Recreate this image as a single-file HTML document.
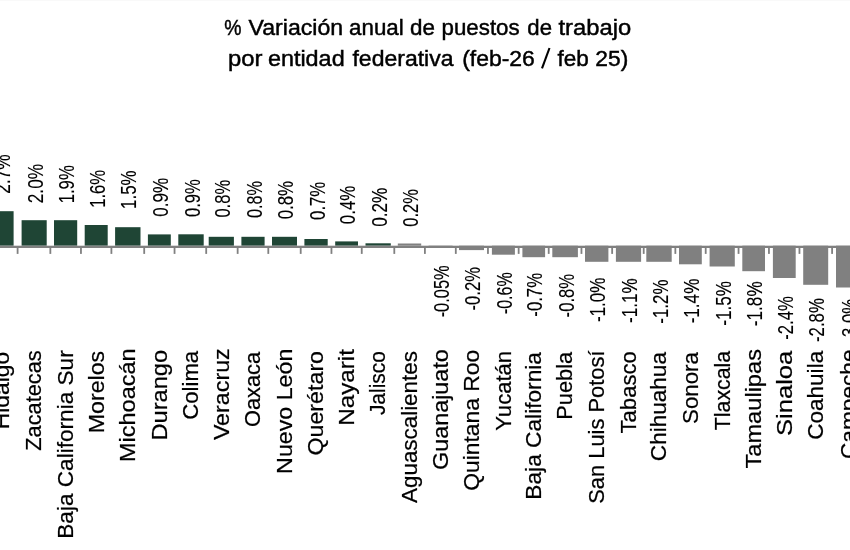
<!DOCTYPE html>
<html><head><meta charset="utf-8"><style>
html,body{margin:0;padding:0;background:#fff;width:850px;height:550px;overflow:hidden}
svg{display:block;will-change:transform;filter:blur(0.4px)}
text{font-family:"Liberation Sans",sans-serif;fill:#000}
.t{font-size:22px;stroke:#000;stroke-width:0.45px}
.v{font-size:21.5px;stroke:#000;stroke-width:0.12px}
.c{font-size:21.5px;stroke:#000;stroke-width:0.22px}
</style></head><body>
<svg width="850" height="550" viewBox="0 0 850 550">
<rect width="850" height="550" fill="#fff"/>
<rect width="850" height="1" fill="#f9f9f9"/>
<rect x="-10.00" y="211.20" width="23.6" height="34.50" fill="#1f4535"/>
<rect x="21.60" y="220.20" width="25.1" height="25.50" fill="#1f4535"/>
<rect x="54.00" y="220.20" width="23.200000000000003" height="25.50" fill="#1f4535"/>
<rect x="84.70" y="225.00" width="23.0" height="20.70" fill="#1f4535"/>
<rect x="115.10" y="227.20" width="25.400000000000006" height="18.50" fill="#1f4535"/>
<rect x="147.90" y="234.40" width="22.900000000000006" height="11.30" fill="#1f4535"/>
<rect x="178.30" y="234.30" width="25.399999999999977" height="11.40" fill="#1f4535"/>
<rect x="208.70" y="236.80" width="25.200000000000017" height="8.90" fill="#1f4535"/>
<rect x="241.40" y="236.80" width="23.200000000000017" height="8.90" fill="#1f4535"/>
<rect x="272.00" y="236.80" width="25.0" height="8.90" fill="#1f4535"/>
<rect x="304.40" y="239.00" width="23.30000000000001" height="6.70" fill="#1f4535"/>
<rect x="335.20" y="241.40" width="22.80000000000001" height="4.30" fill="#1f4535"/>
<rect x="365.50" y="243.30" width="25.30000000000001" height="2.40" fill="#1f4535"/>
<rect x="397.80" y="243.50" width="23.399999999999977" height="2.20" fill="#808080"/>
<rect x="428.60" y="245.70" width="24.0" height="0.80" fill="#808080"/>
<rect x="459.00" y="245.70" width="25.0" height="4.40" fill="#808080"/>
<rect x="491.90" y="245.70" width="23.0" height="9.00" fill="#808080"/>
<rect x="522.40" y="245.70" width="22.700000000000045" height="11.50" fill="#808080"/>
<rect x="552.30" y="245.70" width="25.600000000000023" height="11.50" fill="#808080"/>
<rect x="585.00" y="245.70" width="23.399999999999977" height="16.10" fill="#808080"/>
<rect x="615.90" y="245.70" width="25.200000000000045" height="16.10" fill="#808080"/>
<rect x="646.30" y="245.70" width="25.40000000000009" height="16.10" fill="#808080"/>
<rect x="679.00" y="245.70" width="22.799999999999955" height="18.60" fill="#808080"/>
<rect x="709.60" y="245.70" width="25.199999999999932" height="20.80" fill="#808080"/>
<rect x="742.30" y="245.70" width="22.700000000000045" height="25.50" fill="#808080"/>
<rect x="772.90" y="245.70" width="22.800000000000068" height="32.30" fill="#808080"/>
<rect x="803.20" y="245.70" width="25.0" height="39.10" fill="#808080"/>
<rect x="836.00" y="245.70" width="25.0" height="41.80" fill="#808080"/>
<rect x="0" y="245.70" width="850" height="2.3" fill="#808080"/>
<rect x="16.70" y="247.70" width="1.8" height="6.2" fill="#808080"/>
<rect x="49.45" y="247.70" width="1.8" height="6.2" fill="#808080"/>
<rect x="80.05" y="247.70" width="1.8" height="6.2" fill="#808080"/>
<rect x="110.50" y="247.70" width="1.8" height="6.2" fill="#808080"/>
<rect x="143.30" y="247.70" width="1.8" height="6.2" fill="#808080"/>
<rect x="173.65" y="247.70" width="1.8" height="6.2" fill="#808080"/>
<rect x="205.30" y="247.70" width="1.8" height="6.2" fill="#808080"/>
<rect x="236.75" y="247.70" width="1.8" height="6.2" fill="#808080"/>
<rect x="267.40" y="247.70" width="1.8" height="6.2" fill="#808080"/>
<rect x="299.80" y="247.70" width="1.8" height="6.2" fill="#808080"/>
<rect x="330.55" y="247.70" width="1.8" height="6.2" fill="#808080"/>
<rect x="360.85" y="247.70" width="1.8" height="6.2" fill="#808080"/>
<rect x="393.40" y="247.70" width="1.8" height="6.2" fill="#808080"/>
<rect x="424.00" y="247.70" width="1.8" height="6.2" fill="#808080"/>
<rect x="454.90" y="247.70" width="1.8" height="6.2" fill="#808080"/>
<rect x="487.05" y="247.70" width="1.8" height="6.2" fill="#808080"/>
<rect x="517.75" y="247.70" width="1.8" height="6.2" fill="#808080"/>
<rect x="547.80" y="247.70" width="1.8" height="6.2" fill="#808080"/>
<rect x="580.55" y="247.70" width="1.8" height="6.2" fill="#808080"/>
<rect x="611.25" y="247.70" width="1.8" height="6.2" fill="#808080"/>
<rect x="642.80" y="247.70" width="1.8" height="6.2" fill="#808080"/>
<rect x="674.45" y="247.70" width="1.8" height="6.2" fill="#808080"/>
<rect x="704.80" y="247.70" width="1.8" height="6.2" fill="#808080"/>
<rect x="737.65" y="247.70" width="1.8" height="6.2" fill="#808080"/>
<rect x="768.05" y="247.70" width="1.8" height="6.2" fill="#808080"/>
<rect x="798.55" y="247.70" width="1.8" height="6.2" fill="#808080"/>
<rect x="831.20" y="247.70" width="1.8" height="6.2" fill="#808080"/>
<text class="t" x="224.24" y="35.00" textLength="17.24" lengthAdjust="spacingAndGlyphs">%</text>
<text class="t" x="248.57" y="35.00" textLength="94.61" lengthAdjust="spacingAndGlyphs">Variación</text>
<text class="t" x="349.09" y="35.00" textLength="54.63" lengthAdjust="spacingAndGlyphs">anual</text>
<text class="t" x="409.94" y="35.00" textLength="24.91" lengthAdjust="spacingAndGlyphs">de</text>
<text class="t" x="441.55" y="35.00" textLength="78.14" lengthAdjust="spacingAndGlyphs">puestos</text>
<text class="t" x="527.37" y="35.00" textLength="24.67" lengthAdjust="spacingAndGlyphs">de</text>
<text class="t" x="558.53" y="35.00" textLength="72.68" lengthAdjust="spacingAndGlyphs">trabajo</text>
<text class="t" x="227.99" y="65.60" textLength="34.48" lengthAdjust="spacingAndGlyphs">por</text>
<text class="t" x="267.90" y="65.60" textLength="76.76" lengthAdjust="spacingAndGlyphs">entidad</text>
<text class="t" x="352.47" y="65.60" textLength="101.01" lengthAdjust="spacingAndGlyphs">federativa</text>
<text class="t" x="462.17" y="65.60" textLength="72.72" lengthAdjust="spacingAndGlyphs">(feb-26</text>
<line x1="549.5" y1="48.0" x2="542.0" y2="68.4" stroke="#000" stroke-width="2.1"/>
<text class="t" x="557.40" y="65.60" textLength="31.35" lengthAdjust="spacingAndGlyphs">feb</text>
<text class="t" x="595.36" y="65.60" textLength="32.95" lengthAdjust="spacingAndGlyphs">25)</text>
<text class="v" transform="translate(10.40,193.66) rotate(-90)" textLength="39.41" lengthAdjust="spacingAndGlyphs">2.7%</text>
<text class="c" transform="translate(9.10,429.13) rotate(-90)" textLength="77.23" lengthAdjust="spacingAndGlyphs">Hidalgo</text>
<text class="v" transform="translate(42.75,203.28) rotate(-90)" textLength="39.42" lengthAdjust="spacingAndGlyphs">2.0%</text>
<text class="c" transform="translate(41.45,450.70) rotate(-90)" textLength="100.40" lengthAdjust="spacingAndGlyphs">Zacatecas</text>
<text class="v" transform="translate(74.20,203.35) rotate(-90)" textLength="38.11" lengthAdjust="spacingAndGlyphs">1.9%</text>
<text class="c" transform="translate(72.90,538.73) rotate(-90)" textLength="188.41" lengthAdjust="spacingAndGlyphs">Baja California Sur</text>
<text class="v" transform="translate(104.80,207.86) rotate(-90)" textLength="37.97" lengthAdjust="spacingAndGlyphs">1.6%</text>
<text class="c" transform="translate(103.50,433.24) rotate(-90)" textLength="82.44" lengthAdjust="spacingAndGlyphs">Morelos</text>
<text class="v" transform="translate(136.40,208.93) rotate(-90)" textLength="38.46" lengthAdjust="spacingAndGlyphs">1.5%</text>
<text class="c" transform="translate(135.10,461.94) rotate(-90)" textLength="113.49" lengthAdjust="spacingAndGlyphs">Michoacán</text>
<text class="v" transform="translate(167.95,216.74) rotate(-90)" textLength="38.81" lengthAdjust="spacingAndGlyphs">0.9%</text>
<text class="c" transform="translate(166.65,440.61) rotate(-90)" textLength="90.76" lengthAdjust="spacingAndGlyphs">Durango</text>
<text class="v" transform="translate(199.60,217.09) rotate(-90)" textLength="37.92" lengthAdjust="spacingAndGlyphs">0.9%</text>
<text class="c" transform="translate(198.30,419.85) rotate(-90)" textLength="69.06" lengthAdjust="spacingAndGlyphs">Colima</text>
<text class="v" transform="translate(229.90,217.60) rotate(-90)" textLength="37.69" lengthAdjust="spacingAndGlyphs">0.8%</text>
<text class="c" transform="translate(228.60,440.12) rotate(-90)" textLength="91.84" lengthAdjust="spacingAndGlyphs">Veracruz</text>
<text class="v" transform="translate(261.60,218.04) rotate(-90)" textLength="37.16" lengthAdjust="spacingAndGlyphs">0.8%</text>
<text class="c" transform="translate(260.30,427.07) rotate(-90)" textLength="75.18" lengthAdjust="spacingAndGlyphs">Oaxaca</text>
<text class="v" transform="translate(293.10,219.37) rotate(-90)" textLength="38.52" lengthAdjust="spacingAndGlyphs">0.8%</text>
<text class="c" transform="translate(291.80,473.89) rotate(-90)" textLength="125.24" lengthAdjust="spacingAndGlyphs">Nuevo León</text>
<text class="v" transform="translate(324.65,219.89) rotate(-90)" textLength="38.08" lengthAdjust="spacingAndGlyphs">0.7%</text>
<text class="c" transform="translate(323.35,455.61) rotate(-90)" textLength="104.67" lengthAdjust="spacingAndGlyphs">Querétaro</text>
<text class="v" transform="translate(355.20,224.15) rotate(-90)" textLength="38.34" lengthAdjust="spacingAndGlyphs">0.4%</text>
<text class="c" transform="translate(353.90,425.86) rotate(-90)" textLength="76.82" lengthAdjust="spacingAndGlyphs">Nayarit</text>
<text class="v" transform="translate(386.75,226.81) rotate(-90)" textLength="39.22" lengthAdjust="spacingAndGlyphs">0.2%</text>
<text class="c" transform="translate(385.45,415.12) rotate(-90)" textLength="64.02" lengthAdjust="spacingAndGlyphs">Jalisco</text>
<text class="v" transform="translate(418.10,226.68) rotate(-90)" textLength="37.70" lengthAdjust="spacingAndGlyphs">0.2%</text>
<text class="c" transform="translate(416.80,502.91) rotate(-90)" textLength="151.78" lengthAdjust="spacingAndGlyphs">Aguascalientes</text>
<text class="v" transform="translate(449.20,317.36) rotate(-90)" textLength="52.02" lengthAdjust="spacingAndGlyphs">-0.05%</text>
<text class="c" transform="translate(447.90,470.02) rotate(-90)" textLength="120.91" lengthAdjust="spacingAndGlyphs">Guanajuato</text>
<text class="v" transform="translate(480.10,310.43) rotate(-90)" textLength="43.33" lengthAdjust="spacingAndGlyphs">-0.2%</text>
<text class="c" transform="translate(478.80,490.79) rotate(-90)" textLength="141.04" lengthAdjust="spacingAndGlyphs">Quintana Roo</text>
<text class="v" transform="translate(512.00,314.16) rotate(-90)" textLength="41.97" lengthAdjust="spacingAndGlyphs">-0.6%</text>
<text class="c" transform="translate(510.70,430.63) rotate(-90)" textLength="79.75" lengthAdjust="spacingAndGlyphs">Yucatán</text>
<text class="v" transform="translate(542.35,316.69) rotate(-90)" textLength="43.72" lengthAdjust="spacingAndGlyphs">-0.7%</text>
<text class="c" transform="translate(541.05,499.64) rotate(-90)" textLength="147.60" lengthAdjust="spacingAndGlyphs">Baja California</text>
<text class="v" transform="translate(573.70,317.38) rotate(-90)" textLength="43.50" lengthAdjust="spacingAndGlyphs">-0.8%</text>
<text class="c" transform="translate(572.40,419.73) rotate(-90)" textLength="67.83" lengthAdjust="spacingAndGlyphs">Puebla</text>
<text class="v" transform="translate(605.30,322.08) rotate(-90)" textLength="44.58" lengthAdjust="spacingAndGlyphs">-1.0%</text>
<text class="c" transform="translate(604.00,503.81) rotate(-90)" textLength="153.31" lengthAdjust="spacingAndGlyphs">San Luis Potosí</text>
<text class="v" transform="translate(637.10,323.07) rotate(-90)" textLength="44.69" lengthAdjust="spacingAndGlyphs">-1.1%</text>
<text class="c" transform="translate(635.80,433.44) rotate(-90)" textLength="82.19" lengthAdjust="spacingAndGlyphs">Tabasco</text>
<text class="v" transform="translate(667.60,323.63) rotate(-90)" textLength="44.03" lengthAdjust="spacingAndGlyphs">-1.2%</text>
<text class="c" transform="translate(666.30,461.16) rotate(-90)" textLength="109.12" lengthAdjust="spacingAndGlyphs">Chihuahua</text>
<text class="v" transform="translate(699.00,323.37) rotate(-90)" textLength="44.73" lengthAdjust="spacingAndGlyphs">-1.4%</text>
<text class="c" transform="translate(697.70,423.91) rotate(-90)" textLength="71.80" lengthAdjust="spacingAndGlyphs">Sonora</text>
<text class="v" transform="translate(730.80,325.68) rotate(-90)" textLength="44.51" lengthAdjust="spacingAndGlyphs">-1.5%</text>
<text class="c" transform="translate(729.50,430.26) rotate(-90)" textLength="79.49" lengthAdjust="spacingAndGlyphs">Tlaxcala</text>
<text class="v" transform="translate(762.25,326.13) rotate(-90)" textLength="44.77" lengthAdjust="spacingAndGlyphs">-1.8%</text>
<text class="c" transform="translate(760.95,468.47) rotate(-90)" textLength="119.40" lengthAdjust="spacingAndGlyphs">Tamaulipas</text>
<text class="v" transform="translate(792.90,339.85) rotate(-90)" textLength="43.62" lengthAdjust="spacingAndGlyphs">-2.4%</text>
<text class="c" transform="translate(791.60,436.01) rotate(-90)" textLength="85.31" lengthAdjust="spacingAndGlyphs">Sinaloa</text>
<text class="v" transform="translate(824.30,341.98) rotate(-90)" textLength="43.86" lengthAdjust="spacingAndGlyphs">-2.8%</text>
<text class="c" transform="translate(823.00,439.80) rotate(-90)" textLength="88.98" lengthAdjust="spacingAndGlyphs">Coahuila</text>
<text class="v" transform="translate(857.10,342.65) rotate(-90)" textLength="44.00" lengthAdjust="spacingAndGlyphs">-3.0%</text>
<text class="c" transform="translate(855.80,459.00) rotate(-90)" textLength="109.54" lengthAdjust="spacingAndGlyphs">Campeche</text>
</svg>
</body></html>
